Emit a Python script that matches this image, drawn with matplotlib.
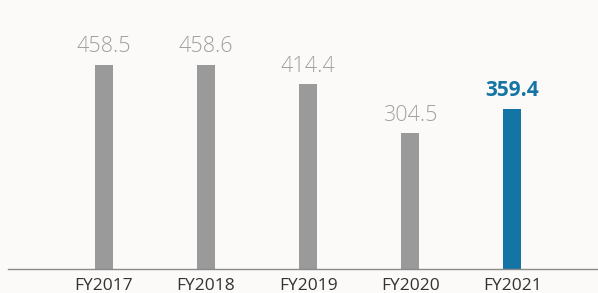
import numpy as np
import matplotlib.pyplot as plt

years = ['FY2017', 'FY2018', 'FY2019', 'FY2020', 'FY2021']
values = [458.5, 458.6, 414.4, 304.5, 359.4]
labels = ['458.5', '458.6', '414.4', '304.5', '359.4']

grey = '#9a9a9a'
blue = '#1474a4'
bg = '#fbfaf8'

fig = plt.figure(figsize=(5.98, 2.93), dpi=100, facecolor=bg)
ax = fig.add_axes([8 / 598, 24 / 293, 590 / 598, 269 / 293])
ax.set_facecolor(bg)

x = np.arange(len(years))
colors = [grey] * (len(years) - 1) + [blue]
ax.bar(x, values, width=0.18, color=colors)

for i, (v, lab) in enumerate(zip(values, labels)):
    last = i == len(values) - 1
    ax.annotate(lab, (x[i], v), xytext=(0, 5.5), textcoords='offset points',
                ha='center', va='bottom', fontsize=15.5 if not last else 15,
                family=['Open Sans', 'DejaVu Sans'],
                fontweight='bold' if last else 'light',
                color=blue if last else '#a0a0a0')

ax.set_xlim(-0.94, 4.84)
ax.set_ylim(0, 604)
ax.set_xticks(x)
ax.set_xticklabels(years, fontsize=12.5, color='#333333', family=['Open Sans', 'DejaVu Sans'])
ax.tick_params(axis='x', length=0, pad=6.5)
ax.set_yticks([])
for s in ['top', 'right', 'left']:
    ax.spines[s].set_visible(False)
ax.spines['bottom'].set_color('#8a8a8a')
ax.spines['bottom'].set_linewidth(1.0)

fig.savefig('out.png', dpi=100, facecolor=bg)
